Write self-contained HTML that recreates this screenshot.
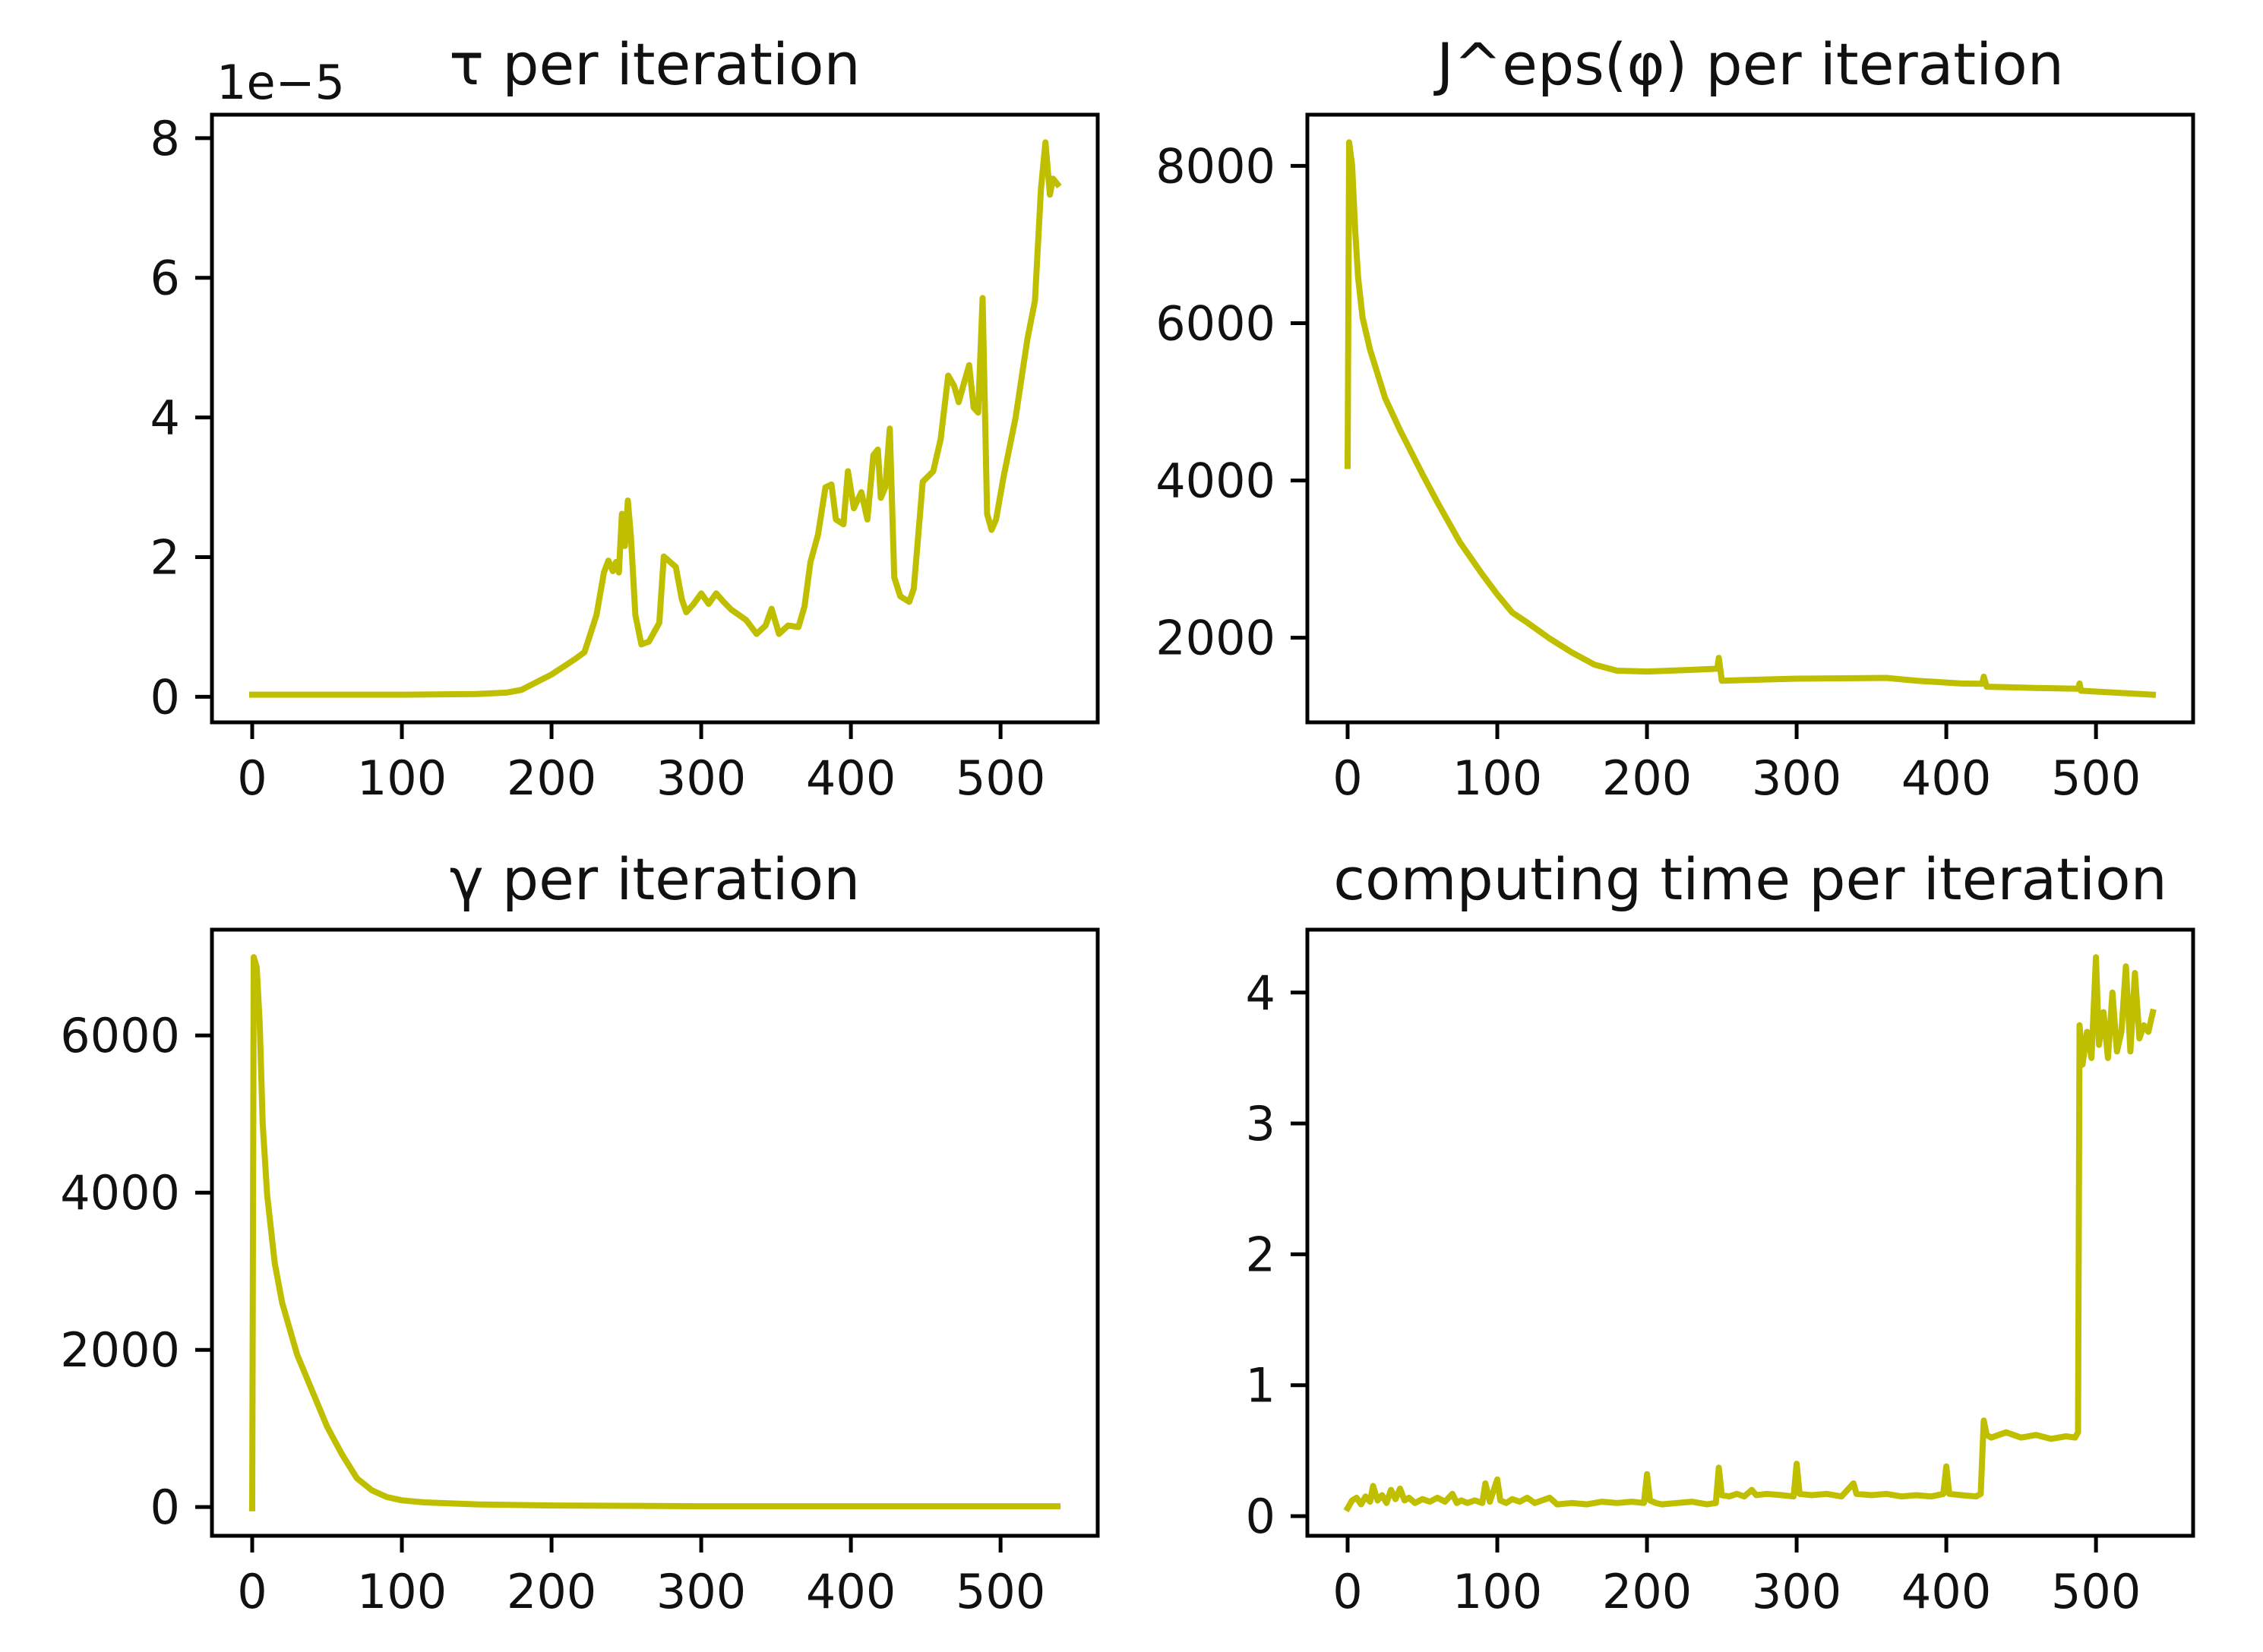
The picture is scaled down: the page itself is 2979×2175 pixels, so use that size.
<!DOCTYPE html>
<html><head><meta charset="utf-8"><style>
html,body{margin:0;padding:0;background:#fff;}
svg{display:block;font-family:"DejaVu Sans","Liberation Sans",sans-serif;}
</style></head><body>
<svg id="fig" width="2979" height="2175" viewBox="0 0 2979 2175" xmlns="http://www.w3.org/2000/svg">
<rect width="2979" height="2175" fill="#fff"/>
</svg>
<script>
// ---- data ----
const tauX = [0,50,100,150,170,180,200,215,222,230,235,238,241,243,245,247,249,251,253,256,260,265,272,275,283,287,290,295,300,305,310,315,320,330,337,343,347,352,358,365,369,373,378,383,387,390,395,398,402,407,411,415,418,420,423,426,429,433,439,442,448,455,460,465,469,472,475,479,482,485,488,491,494,497,502,510,518,523,527,530,533,535,538];
const tauY = [0.03,0.03,0.03,0.04,0.06,0.1,0.32,0.53,0.64,1.17,1.78,1.95,1.8,1.93,1.78,2.62,2.16,2.81,2.3,1.17,0.75,0.79,1.06,2.01,1.86,1.4,1.21,1.33,1.48,1.33,1.48,1.36,1.25,1.1,0.9,1.02,1.26,0.9,1.02,1.0,1.29,1.93,2.32,3.0,3.04,2.54,2.47,3.23,2.7,2.93,2.54,3.46,3.54,2.85,3.0,3.84,1.71,1.44,1.36,1.55,3.08,3.23,3.69,4.6,4.45,4.22,4.45,4.75,4.14,4.07,5.71,2.62,2.39,2.54,3.15,3.99,5.13,5.67,7.27,7.94,7.19,7.42,7.34];
const tauTicks = [0,2,4,6,8];

const jX = [0,1,3,5,7,10,15,20,25,35,50,60,75,90,100,110,120,135,150,165,180,200,230,247,248,250,300,360,380,410,424,425,427,460,488,489,490,538];
const jY = [4184,8300,8010,7194,6580,6070,5660,5357,5050,4640,4080,3724,3214,2806,2551,2321,2194,1990,1811,1658,1582,1571,1592,1607,1745,1454,1480,1490,1454,1418,1415,1505,1378,1362,1352,1418,1327,1276];
const jTicks = [2000,4000,6000,8000];

const gX = [0,1,3,5,7,10,15,20,30,40,50,60,70,80,90,100,115,150,200,300,538];
const gY = [-15,6995,6870,6150,4880,3970,3107,2600,1940,1482,1025,670,365,213,127,86,60,35,20,10,10];
const gTicks = [0,2000,4000,6000];

const tX = [0,3,6,9,12,15,17,20,23,26,29,32,35,38,41,45,50,55,60,65,70,73,76,80,85,90,92,95,100,102,106,110,115,120,125,130,135,140,150,160,170,180,190,198,200,202,206,210,220,230,240,246,248,250,255,260,265,270,273,280,290,298,300,302,310,320,330,338,340,350,360,370,380,390,398,400,402,410,420,423,425,427,430,440,450,460,470,480,486,488,489,491,494,497,500,502,505,508,511,514,517,520,523,526,529,532,535,538];
const tY = [0.06,0.12,0.14,0.09,0.15,0.11,0.23,0.12,0.16,0.1,0.2,0.13,0.21,0.12,0.14,0.1,0.13,0.11,0.14,0.11,0.17,0.1,0.12,0.1,0.12,0.1,0.25,0.11,0.28,0.12,0.1,0.13,0.11,0.14,0.1,0.12,0.14,0.09,0.1,0.09,0.11,0.1,0.11,0.1,0.32,0.12,0.1,0.09,0.1,0.11,0.09,0.1,0.37,0.16,0.15,0.17,0.15,0.2,0.16,0.17,0.16,0.15,0.4,0.17,0.16,0.17,0.15,0.25,0.17,0.16,0.17,0.15,0.16,0.15,0.17,0.38,0.17,0.16,0.15,0.17,0.73,0.62,0.6,0.64,0.6,0.62,0.59,0.61,0.6,0.64,3.75,3.45,3.7,3.5,4.27,3.6,3.85,3.5,4.0,3.55,3.7,4.2,3.55,4.15,3.65,3.75,3.7,3.85];
const tTicks = [0,1,2,3,4];

const xTicks = [0,100,200,300,400,500];

// ---- drawing ----
const NS = "http://www.w3.org/2000/svg";
const svg = document.getElementById('fig');
const COLOR = "#bfbf00";
function mk(tag, attrs, parent){ const e=document.createElementNS(NS,tag); for(const k in attrs) e.setAttribute(k,attrs[k]); (parent||svg).appendChild(e); return e; }

function panel(key, box, xs, ys, yTicks, title){
  const g = mk('g',{});
  
  
  const xmin=-26.9, xmax=564.9;
  let dmin=Math.min(...ys), dmax=Math.max(...ys);
  const m=(dmax-dmin)*0.05; const ymin=dmin-m, ymax=dmax+m;
  const sx = v => box.l + (v-xmin)/(xmax-xmin)*(box.r-box.l);
  const sy = v => box.b - (v-ymin)/(ymax-ymin)*(box.b-box.t);
  let d='';
  for(let i=0;i<xs.length;i++) d += (i?'L':'M') + sx(xs[i]).toFixed(1)+','+sy(ys[i]).toFixed(1);
  const line = mk('path',{d:d,fill:'none',stroke:COLOR,'stroke-width':8,'stroke-linejoin':'round','stroke-linecap':'square'},g);
  
  
  const frame = mk('rect',{x:box.l,y:box.t,width:box.r-box.l,height:box.b-box.t,fill:'none',stroke:'#000','stroke-width':5},g);
  
  
  xTicks.forEach(v=>{
    const x=sx(v);
    mk('line',{x1:x,x2:x,y1:box.b,y2:box.b+22,stroke:'#000','stroke-width':5},g);
    const t=mk('text',{x:x,y:box.b+95,'font-size':62,'text-anchor':'middle',fill:'#111'},g);
    t.textContent=v;
    
    
  });
  yTicks.forEach(v=>{
    const y=sy(v);
    mk('line',{x1:box.l-22,x2:box.l,y1:y,y2:y,stroke:'#000','stroke-width':5},g);
    const t=mk('text',{x:box.l-42,y:y+22,'font-size':62,'text-anchor':'end',fill:'#111'},g);
    t.textContent=v;
    
    
  });
  const tt=mk('text',{x:(box.l+box.r)/2,y:box.t-40,'font-size':76,'text-anchor':'middle',fill:'#111'},g);
  tt.textContent=title;
  
  
}

panel('tau',{l:279,r:1445,t:151,b:951},tauX,tauY,tauTicks,'τ per iteration');
panel('j-eps',{l:1721,r:2887,t:151,b:951},jX,jY,jTicks,'J^eps(φ) per iteration');
panel('gamma',{l:279,r:1445,t:1224,b:2022},gX,gY,gTicks,'γ per iteration');
panel('computing-time',{l:1721,r:2887,t:1224,b:2022},tX,tY,tTicks,'computing time per iteration');

const off=mk('text',{x:285,y:130,'font-size':62,fill:'#111'});
off.textContent='1e−5';


</script>
</body></html>
